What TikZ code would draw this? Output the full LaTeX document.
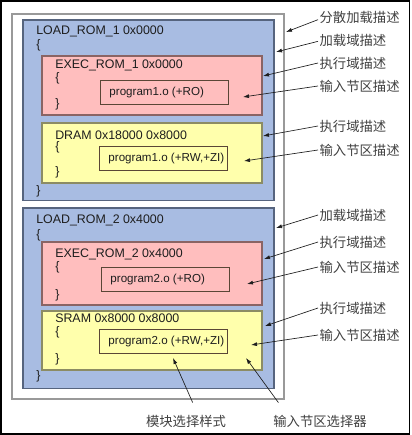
\documentclass[tikz,border=0pt]{standalone}
\usepackage{fontspec}
\setmainfont{Liberation Sans}
\newfontfamily\cjk{Noto Sans CJK SC}
\usetikzlibrary{arrows.meta,positioning,calc}
\definecolor{ink}{HTML}{1E1E1E}
\definecolor{frame}{HTML}{999999}
\definecolor{loadreg}{HTML}{A8BCE2}
\definecolor{loadedge}{HTML}{56647E}
\definecolor{execreg}{HTML}{FFBEBE}
\definecolor{execedge}{HTML}{8A6464}
\definecolor{datareg}{HTML}{FFFFAC}
\definecolor{dataedge}{HTML}{8C8C64}
\definecolor{secedge}{HTML}{5A4636}
\tikzset{
  >=Latex,
  every node/.style={font=\fontsize{9.3}{11}\selectfont,text=ink},
  region/.style={anchor=north west,inner sep=0pt,outer sep=0pt},
  scatterbox/.style={region,draw=frame,fill=white,line width=1.2pt,minimum width=204pt,minimum height=288.75pt},
  loadbox/.style={region,draw=loadedge,fill=loadreg,line width=0.8pt,minimum width=188.25pt,minimum height=135.5pt},
  execbox/.style={region,draw=execedge,fill=execreg,line width=0.8pt,minimum width=165pt},
  databox/.style={region,draw=dataedge,fill=datareg,line width=0.8pt,minimum width=165pt},
  secbox/.style={anchor=north west,draw=secedge,line width=0.7pt,inner xsep=6.75pt,inner ysep=0pt,minimum height=18pt,font=\fontsize{8.7}{10}\selectfont},
  code/.style={anchor=base west,inner sep=0pt},
  desc/.style={anchor=west,inner sep=1pt,font=\cjk\fontsize{10}{12}\selectfont,text=ink!85},
  pointer/.style={-{Latex[length=4.5pt,width=3pt]},draw=ink,line width=0.5pt},
}
\newcommand{\sect}[1]{\makebox[82.5pt][l]{#1}}

\begin{document}
\begin{tikzpicture}[x=0.75pt,y=-0.75pt]
\useasboundingbox (0,0) rectangle (411,435);
\draw[line width=1.1pt] (0.8,0.8) rectangle (409.6,433.8);

% scatter file and its two load regions
\node[scatterbox] (scatter) at (12,14) {};
\node[loadbox] (load1) at (23,20) {};
\node[loadbox] (load2) at (23,208) {};

% load region 1
\node[code] (load1-head) at (36,35) {LOAD\_ROM\_1 0x0000};
\node[code] (load1-open) at (36,49) {\{};
\node[code] (load1-close) at (36,194) {\}};
\node[execbox,minimum height=44.25pt] (exec1) at (42,56) {};
\node[code] (exec1-head) at (55,69) {EXEC\_ROM\_1 0x0000};
\node[code] (exec1-open) at (55,81) {\{};
\node[code] (exec1-close) at (55,108) {\}};
\node[secbox] (sec1) at (100,80) {\sect{program1.o (+RO)}};
\node[databox,minimum height=45pt] (data1) at (42,123) {};
\node[code] (data1-head) at (55,139) {DRAM 0x18000 0x8000};
\node[code] (data1-open) at (55,150) {\{};
\node[code] (data1-close) at (55,175) {\}};
\node[secbox] (sec2) at (99,146) {\sect{program1.o (+RW,+ZI)}};

% load region 2
\node[code] (load2-head) at (36,223) {LOAD\_ROM\_2 0x4000};
\node[code] (load2-open) at (36,238) {\{};
\node[code] (load2-close) at (36,379) {\}};
\node[execbox,minimum height=47.25pt] (exec2) at (42,242) {};
\node[code] (exec2-head) at (55,257) {EXEC\_ROM\_2 0x4000};
\node[code] (exec2-open) at (55,270) {\{};
\node[code] (exec2-close) at (55,298) {\}};
\node[secbox] (sec3) at (101,267) {\sect{program2.o (+RO)}};
\node[databox,minimum height=44.25pt] (data2) at (42,311) {};
\node[code] (data2-head) at (55,322) {SRAM 0x8000 0x8000};
\node[code] (data2-open) at (55,335) {\{};
\node[code] (data2-close) at (55,362) {\}};
\node[secbox] (sec4) at (99,329) {\sect{program2.o (+RW,+ZI)}};

% where the pointers land
\coordinate (p-scatter) at (286,32);
\coordinate (p-load1) at (276,52);
\coordinate (p-exec1) at (263,76);
\coordinate (p-sec1) at (243,97);
\coordinate (p-data1) at (263,136);
\coordinate (p-sec2) at (244,161);
\coordinate (p-load2) at (276,228);
\coordinate (p-exec2) at (264,259);
\coordinate (p-sec3) at (247,284);
\coordinate (p-data2) at (265,326);
\coordinate (p-sec4) at (251,345);
\coordinate (p-mod) at (173,358);
\coordinate (p-sel) at (246,358);

% descriptions
\node[desc] (d-scatter) at (318,17) {分散加载描述};
\node[desc] (d-load1) at (318,40) {加载域描述};
\node[desc] (d-exec1) at (318,63) {执行域描述};
\node[desc] (d-sec1) at (318,86) {输入节区描述};
\node[desc] (d-data1) at (318,126) {执行域描述};
\node[desc] (d-sec2) at (318,150) {输入节区描述};
\node[desc] (d-load2) at (318,215) {加载域描述};
\node[desc] (d-exec2) at (318,242) {执行域描述};
\node[desc] (d-sec3) at (318,267) {输入节区描述};
\node[desc] (d-data2) at (318,308) {执行域描述};
\node[desc] (d-sec4) at (318,335) {输入节区描述};
\node[desc,anchor=center] (d-mod) at (186,421) {模块选择样式};
\node[desc,anchor=center] (d-sel) at (320,421) {输入节区选择器};

\draw[pointer] ([yshift=-2pt]d-scatter.west) -- (p-scatter);
\draw[pointer] ([yshift=-1pt]d-load1.west) -- (p-load1);
\draw[pointer] (d-exec1.west) -- (p-exec1);
\draw[pointer] (d-sec1.west) -- (p-sec1);
\draw[pointer] (d-data1.west) -- (p-data1);
\draw[pointer] (d-sec2.west) -- (p-sec2);
\draw[pointer] (d-load2.west) -- (p-load2);
\draw[pointer] (d-exec2.west) -- (p-exec2);
\draw[pointer] (d-sec3.west) -- (p-sec3);
\draw[pointer] (d-data2.west) -- (p-data2);
\draw[pointer] (d-sec4.west) -- (p-sec4);
\draw[pointer] ([shift={(5pt,8pt)}]d-mod.north) -- (p-mod);
\draw[pointer] ([shift={(5pt,8pt)}]d-sel.north west) -- (p-sel);
\end{tikzpicture}
\end{document}
